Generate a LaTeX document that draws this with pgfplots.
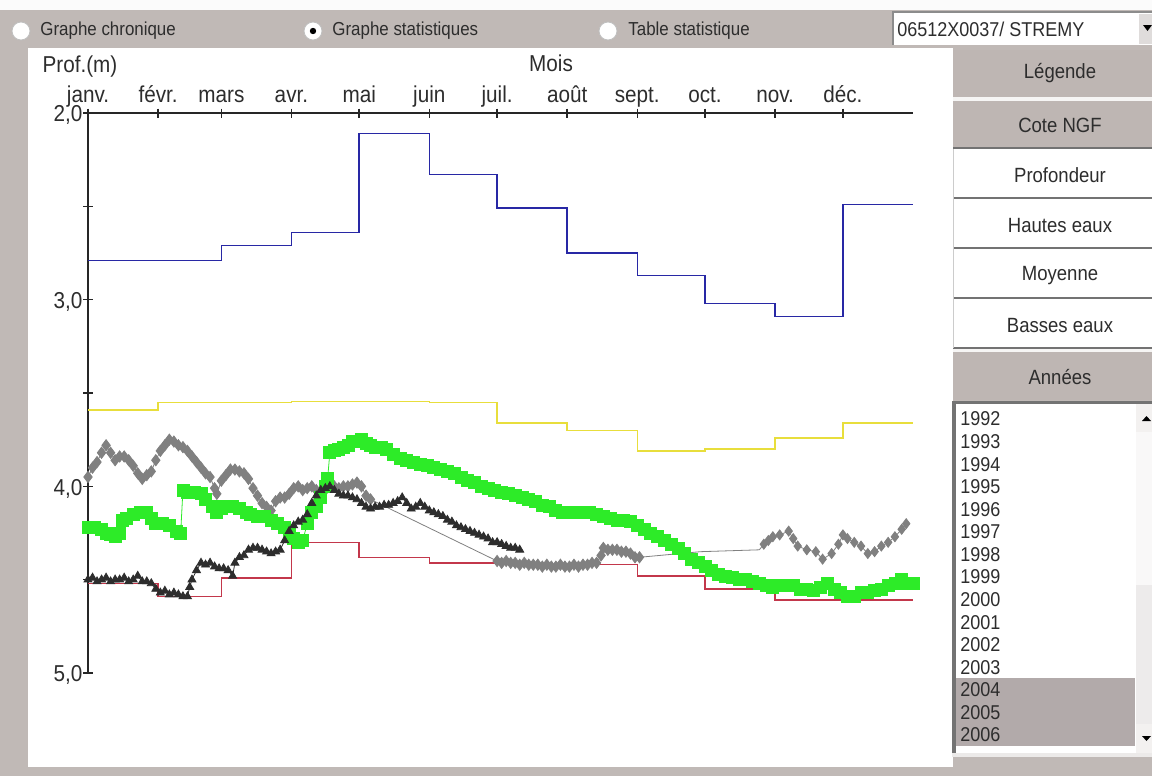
\documentclass[border=0pt]{standalone}
\usepackage{fontspec}
\setmainfont{Liberation Sans}[FakeStretch=0.9]
\usepackage{pgfplots}
\pgfplotsset{compat=1.18}

\definecolor{uibg}{RGB}{192,185,182}
\definecolor{btn}{RGB}{190,182,179}
\definecolor{sel}{RGB}{178,170,170}
\definecolor{txt}{RGB}{45,45,45}
\definecolor{hblue}{RGB}{40,40,165}
\definecolor{myell}{RGB}{232,222,60}
\definecolor{bred}{RGB}{195,55,75}
\definecolor{sgreen}{RGB}{45,235,40}
\definecolor{sgray}{RGB}{128,128,128}
\definecolor{sblack}{RGB}{45,45,45}

\newcommand\fs[1]{\fontsize{#1}{#1}\selectfont}

\begin{document}
\begin{tikzpicture}
\useasboundingbox (0,0) rectangle (576pt,-388pt);

% interface around the chart (1 px = 0.5pt, origin top left)
\begin{scope}[x=0.5pt,y=-0.5pt,every node/.style={inner sep=0pt,text=txt}]
  \fill[uibg] (0,0) rectangle (1152,776);
  \fill[white!94!uibg] (0,0) rectangle (1152,10);
  \fill[white] (28,48) rectangle (953,767);

  % radio buttons
  \foreach \cx in {21,313,608} {
    \fill[white] (\cx,31) circle (9);
    \draw[black!25] (\cx,31) circle (9);
  }
  \fill[black] (313,31) circle (3.2);
  \node[anchor=west,font=\fs{9.4}] at (40,31) {Graphe chronique};
  \node[anchor=west,font=\fs{9.4}] at (332,31) {Graphe statistiques};
  \node[anchor=west,font=\fs{9.4}] at (628,31) {Table statistique};

  % station selector
  \fill[white] (893,12) rectangle (1152,45);
  \draw[black!45,line width=1] (893,45) -- (893,12) -- (1152,12);
  \fill[uibg!50] (1139,14) rectangle (1152,44);
  \fill[black] (1143,25) -- (1152,25) -- (1147.5,31) -- cycle;
  \node[anchor=west,font=\fs{10}] at (897,29) {06512X0037/ STREMY};

  % side buttons
  \fill[btn] (953,50) rectangle (1152,97);
  \fill[white!85!uibg] (953,97) rectangle (1152,101);
  \fill[btn] (953,101) rectangle (1152,147);
  \fill[white] (953,149) rectangle (1152,348);
  \foreach \yy in {148,198,248,298,348}
    \draw[black!55,line width=1.2] (953,\yy) -- (1152,\yy);
  \draw[black!20] (953,149) -- (953,348);
  \fill[white!85!uibg] (953,349) rectangle (1152,352);
  \fill[btn] (953,352) rectangle (1152,400);
  \node[font=\fs{10.3}] at (1060,73) {Légende};
  \node[font=\fs{10.3}] at (1060,125) {Cote NGF};
  \node[font=\fs{10.3}] at (1060,175) {Profondeur};
  \node[font=\fs{10.3}] at (1060,226) {Hautes eaux};
  \node[font=\fs{10.3}] at (1060,276) {Moyenne};
  \node[font=\fs{10.3}] at (1060,326) {Basses eaux};
  \node[font=\fs{10.3}] at (1060,377) {Années};

  % year list
  \fill[white] (953,402) rectangle (1152,756);
  \fill[black!55] (952,401) rectangle (956,756);
  \fill[black!55] (952,401) rectangle (1152,404);
  \fill[sel] (956,678) rectangle (1135,746);
  \fill[white!80!uibg] (1136,404) rectangle (1152,432);
  \fill[black] (1142,421) -- (1151,421) -- (1146.5,416) -- cycle;
  \fill[white!90!uibg] (1136,432) rectangle (1152,585);
  \fill[white!72!uibg] (1136,585) rectangle (1152,724);
  \fill[white!80!uibg] (1136,724) rectangle (1152,753);
  \fill[black] (1142,736) -- (1151,736) -- (1146.5,741) -- cycle;
  \fill[white!70!uibg] (952,753) rectangle (1152,757);
  \foreach \yr [count=\k from 0] in {1992,...,2006}
    \node[anchor=west,font=\fs{10}] at (960,{419+22.57*\k}) {\yr};

  % axis titles
  \node[font=\fs{11.5}] at (80,67) {Prof.(m)};
  \node[font=\fs{11.5}] at (551,63) {Mois};
\end{scope}

\begin{axis}[
    at={(44pt,-336.5pt)}, anchor=south west,
    scale only axis, width=412.5pt, height=280pt,
    xmin=0, xmax=365, ymin=2, ymax=5, y dir=reverse,
    axis x line=top, axis y line=left,
    axis line style={-,line width=0.75pt,black!85},
    every tick/.style={line width=0.75pt,black!85},
    tick align=center, major tick length=4.5pt, minor tick length=4.5pt,
    xtick={0,31,59,90,120,151,181,212,243,273,304,334},
    xticklabels={janv.,févr.,mars,avr.,mai,juin,juil.,août,sept.,oct.,nov.,déc.},
    ytick={2,3,4,5}, minor ytick={2.5,3.5,4.5},
    /pgf/number format/assume math mode=true,
    ticklabel style={font=\fs{11.5},text=txt},
    xticklabel style={anchor=base,yshift=3pt},
    yticklabel style={xshift=3pt,yshift=-1.2pt,/pgf/number format/.cd,fixed,fixed zerofill,precision=1,use comma},
    clip=false,
  ]
  % monthly statistics
  \addplot[const plot, hblue, line width=0.75pt] coordinates {
    (0,2.79)(31,2.79)(59,2.71)(90,2.64)(120,2.11)(151,2.33)(181,2.51)
    (212,2.75)(243,2.87)(273,3.02)(304,3.09)(334,2.49)(365,2.49)};
  \addplot[const plot, myell, line width=0.75pt] coordinates {
    (0,3.59)(31,3.55)(59,3.55)(90,3.545)(120,3.545)(151,3.55)(181,3.66)
    (212,3.70)(243,3.81)(273,3.80)(304,3.74)(334,3.66)(365,3.66)};
  \addplot[const plot, bred, line width=0.75pt] coordinates {
    (0,4.52)(31,4.59)(59,4.49)(90,4.30)(120,4.38)(151,4.41)(181,4.42)
    (212,4.42)(243,4.48)(273,4.55)(304,4.61)(334,4.61)(365,4.61)};

  % gray year (diamonds)
  \addplot[sgray, line width=0.4pt, mark=diamond*, mark size=2.8pt] coordinates {
    (0,3.95)(2,3.90)(4,3.87)(6,3.82)(8,3.78)(10,3.82)(12,3.86)(14,3.84)(16,3.84)
    (18,3.86)(20,3.89)(22,3.93)(24,3.96)(26,3.94)(28,3.92)(30,3.86)(32,3.81)
    (34,3.78)(36,3.75)(38,3.76)(40,3.78)(42,3.79)(44,3.81)(46,3.84)(48,3.87)
    (50,3.90)(52,3.93)(54,3.95)(56,4.01)(57,4.04)(59,3.97)(61,3.94)(63,3.91)
    (65,3.91)(67,3.92)(69,3.93)(71,3.96)(73,4.01)(75,4.05)(77,4.09)(79,4.11)
    (81,4.13)(83,4.08)(85,4.06)(87,4.06)(89,4.04)(91,4.01)(93,4.00)(95,4.02)
    (97,4.01)(99,4.00)(101,4.02)(103,4.04)(105,4.02)(107,4.00)(109,4.00)
    (111,4.01)(113,4.00)(115,4.00)(117,3.99)(119,3.98)(121,4.00)(123,4.05)(125,4.07)};
  \addplot[sgray, line width=0.4pt] coordinates {(125,4.07)(181,4.40)};
  \addplot[sgray, line width=0.4pt, mark=diamond*, mark size=2.8pt] coordinates {
    (181,4.40)(183,4.41)(185,4.40)(187,4.41)(189,4.41)(191,4.42)(193,4.41)
    (195,4.42)(197,4.42)(199,4.42)(201,4.43)(203,4.42)(205,4.43)(207,4.43)
    (209,4.42)(211,4.43)(213,4.43)(215,4.42)(217,4.43)(219,4.42)(221,4.42)
    (223,4.41)(225,4.41)(227,4.37)(228,4.33)(230,4.34)(232,4.34)(234,4.34)
    (236,4.35)(238,4.35)(240,4.36)(242,4.38)(244,4.38)};
  \addplot[sgray, line width=0.4pt] coordinates {(244,4.38)(271,4.35)(297,4.34)(299,4.31)};
  \addplot[sgray, line width=0.4pt, mark=diamond*, mark size=2.5pt] coordinates {
    (299,4.31)(301,4.29)(303,4.27)(306,4.26)(310,4.24)(312,4.28)(314,4.32)
    (318,4.34)(322,4.35)(325,4.39)(329,4.36)(332,4.31)(334,4.26)(336,4.28)
    (339,4.30)(342,4.32)(345,4.36)(348,4.35)(351,4.32)(354,4.30)(357,4.27)
    (360,4.23)(362,4.20)};

  % green year (squares)
  \addplot[sgreen, line width=0.4pt, mark=square*, mark size=3pt] coordinates {
    (0,4.22)(3,4.22)(6,4.23)(8,4.25)(10,4.26)(12,4.27)(14,4.25)(15,4.18)(17,4.17)
    (20,4.15)(23,4.14)(26,4.14)(28,4.17)(30,4.20)(33,4.20)(36,4.21)(39,4.24)
    (41,4.25)(42,4.02)(44,4.03)(47,4.03)(50,4.04)(52,4.07)(55,4.11)(57,4.14)
    (59,4.12)(61,4.11)(64,4.11)(67,4.12)(70,4.14)(72,4.15)(75,4.16)(78,4.16)
    (81,4.18)(84,4.20)(87,4.22)(89,4.25)(91,4.28)(93,4.30)(95,4.29)(97,4.20)
    (99,4.14)(101,4.11)(103,4.06)(105,4.00)(106,3.96)(107,3.82)(109,3.81)
    (111,3.80)(113,3.79)(115,3.78)(117,3.76)(119,3.76)(121,3.75)(123,3.77)
    (125,3.78)(127,3.79)(130,3.79)(132,3.80)(135,3.83)(138,3.85)(141,3.86)
    (144,3.87)(147,3.88)(150,3.89)(153,3.90)(156,3.91)(159,3.92)(162,3.93)
    (165,3.95)(168,3.97)(171,3.98)(174,4.00)(177,4.01)(180,4.02)(183,4.03)
    (186,4.04)(189,4.05)(192,4.06)(195,4.07)(198,4.08)(201,4.10)(204,4.11)
    (207,4.13)(210,4.14)(213,4.14)(216,4.14)(219,4.14)(222,4.14)(225,4.15)
    (228,4.16)(231,4.17)(234,4.18)(237,4.18)(240,4.19)(243,4.21)(246,4.23)
    (249,4.25)(252,4.27)(255,4.29)(258,4.31)(261,4.33)(264,4.36)(267,4.39)
    (270,4.41)(273,4.43)(276,4.45)(279,4.47)(282,4.48)(285,4.49)(288,4.50)
    (291,4.50)(294,4.51)(297,4.52)(300,4.53)(303,4.54)(306,4.53)(309,4.53)
    (312,4.53)(315,4.55)(318,4.55)(321,4.56)(324,4.54)(327,4.52)(330,4.55)
    (333,4.57)(336,4.59)(339,4.59)(342,4.57)(345,4.57)(348,4.56)(351,4.55)
    (354,4.53)(357,4.52)(360,4.50)(363,4.52)(365,4.52)};

  % dark year (triangles)
  \addplot[sblack, line width=0.4pt, mark=triangle*, mark size=2.3pt] coordinates {
    (0,4.50)(2,4.49)(4,4.51)(6,4.50)(8,4.49)(10,4.51)(12,4.50)(14,4.50)(16,4.49)
    (18,4.51)(20,4.50)(22,4.48)(24,4.51)(26,4.51)(28,4.52)(30,4.55)(32,4.57)
    (34,4.56)(36,4.58)(38,4.57)(40,4.58)(42,4.59)(44,4.59)(45,4.54)(46,4.50)
    (48,4.45)(50,4.41)(52,4.42)(54,4.41)(56,4.43)(58,4.44)(60,4.44)(62,4.45)
    (64,4.48)(65,4.41)(67,4.38)(69,4.37)(71,4.34)(73,4.33)(75,4.33)(77,4.34)
    (79,4.35)(81,4.36)(83,4.35)(85,4.34)(87,4.29)(89,4.24)(91,4.21)(93,4.19)
    (95,4.18)(97,4.15)(99,4.09)(101,4.05)(103,4.02)(105,4.01)(107,4.00)
    (109,4.02)(111,4.04)(113,4.05)(115,4.05)(117,4.06)(119,4.07)(121,4.09)
    (123,4.11)(125,4.12)(127,4.11)(129,4.11)(131,4.10)(133,4.10)(135,4.09)
    (137,4.08)(139,4.06)(141,4.09)(143,4.12)(145,4.11)(147,4.09)(149,4.11)
    (151,4.13)(153,4.14)(155,4.15)(157,4.16)(159,4.18)(161,4.19)(163,4.21)
    (165,4.22)(167,4.23)(169,4.24)(171,4.25)(173,4.26)(175,4.27)(177,4.28)
    (179,4.30)(181,4.30)(183,4.31)(185,4.32)(187,4.33)(189,4.33)(191,4.34)};
\end{axis}
\end{tikzpicture}
\end{document}
